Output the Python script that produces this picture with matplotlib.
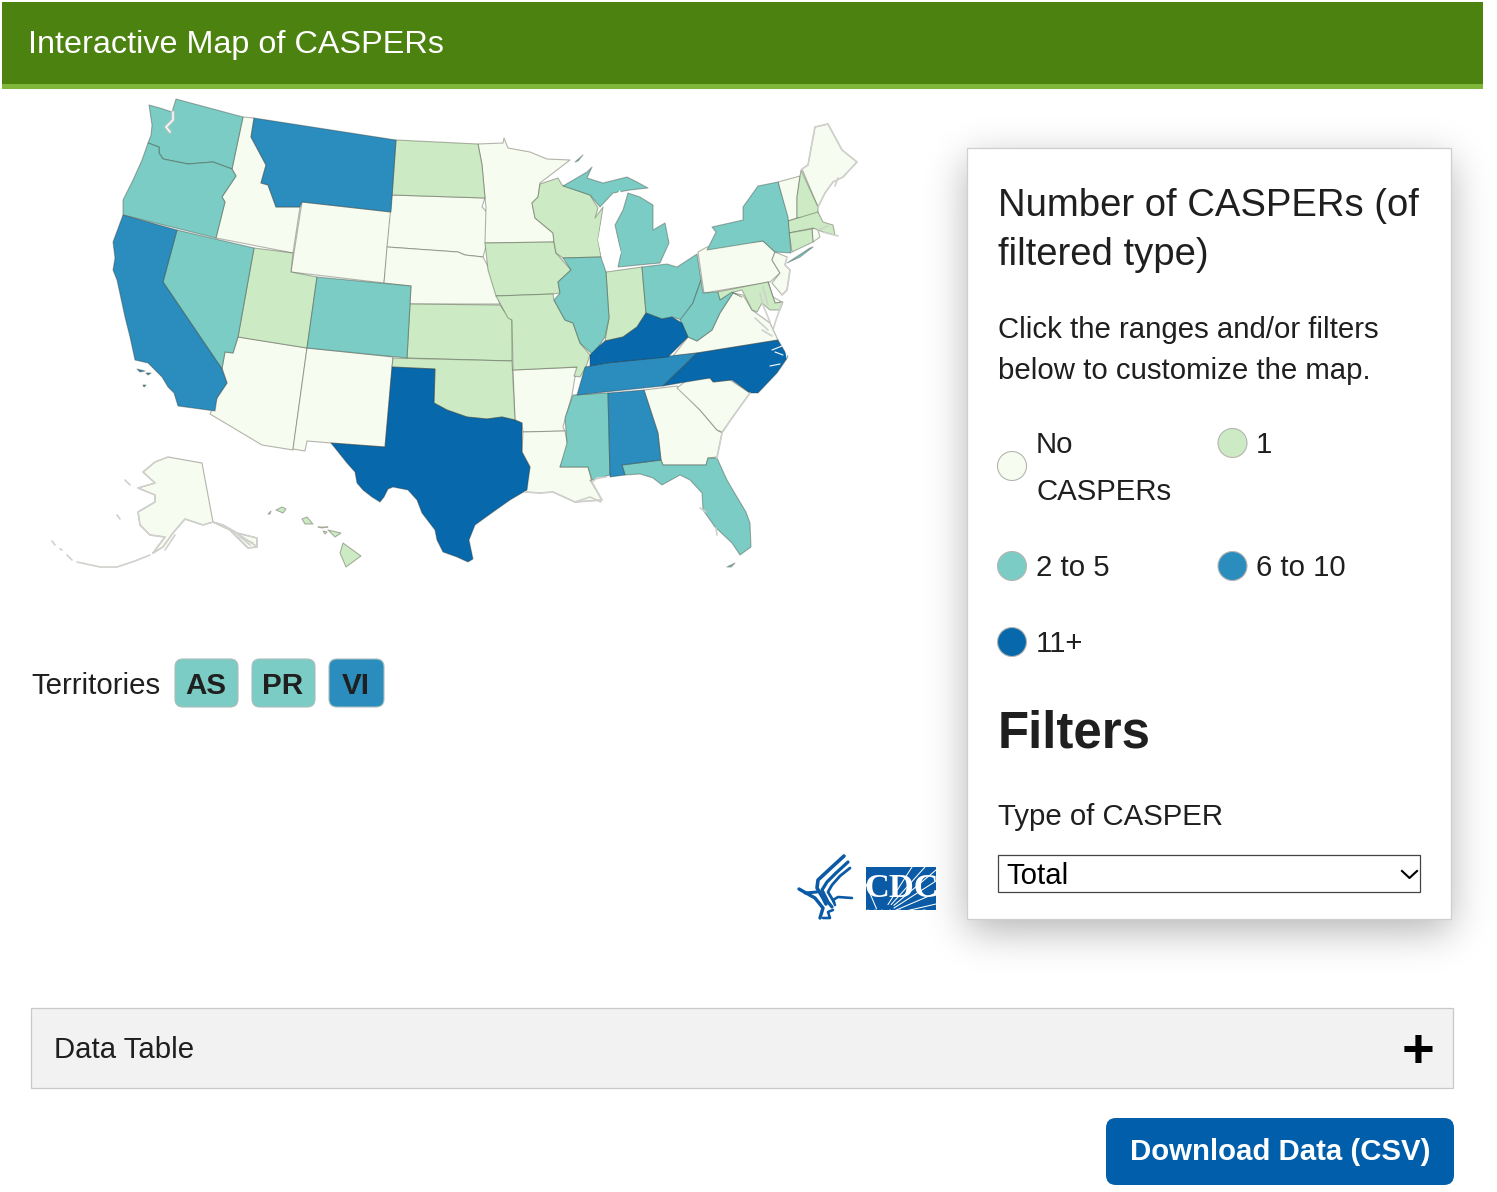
import math
import numpy as np
import matplotlib
matplotlib.use("Agg")
import matplotlib.pyplot as plt
from matplotlib.patches import Rectangle, FancyBboxPatch, Circle, Polygon

plt.rcParams['font.family'] = ['Liberation Sans', 'DejaVu Sans']

# ---------- data ----------
TITLE = "Interactive Map of CASPERs"
RANGE_LABELS = ["No\nCASPERs", "1", "2 to 5", "6 to 10", "11+"]
RANGE_COLORS = ["#f7fcf0", "#ccebc5", "#7bccc4", "#2b8cbe", "#0868ac"]

NO_CASPERS = ["ID", "WY", "SD", "NE", "MN", "AZ", "NM", "AR", "LA", "GA", "SC", "VA", "PA", "NJ", "VT", "ME", "AK", "RI", "DE"]
ONE = ["ND", "UT", "KS", "OK", "IA", "MO", "WI", "IN", "NH", "MA", "CT", "MD", "HI"]
TWO_TO_FIVE = ["WA", "OR", "NV", "CO", "IL", "MI", "OH", "WV", "NY", "MS", "FL"]
SIX_TO_TEN = ["MT", "CA", "TN", "AL"]
ELEVEN_PLUS = ["TX", "KY", "NC"]
GROUPS = [NO_CASPERS, ONE, TWO_TO_FIVE, SIX_TO_TEN, ELEVEN_PLUS]

TERRITORIES = ["AS", "PR", "VI"]
TERRITORY_GROUP = [2, 2, 3]

# Outline geometry of the base map (projected, image pixels); one or more rings per state
SHAPES = {
 "WA": [[(176,99),(243,117),(232,169),(213,162),(188,164),(163,159),(159,153),(159,147),(148,143),(151,135),(152,125),(149,105),(160,108),(172,112)]],
 "OR": [[(148,143),(159,147),(159,153),(163,159),(188,164),(213,162),(232,169),(236,176),(222,197),(225,202),(216,238),(123,215),(123,200),(133,180),(142,160)]],
 "ID": [[(243,117),(254,118),(251,137),(266,165),(261,183),(268,185),(276,207),(297,207),(300,207),(293,253),(216,238),(225,202),(222,197),(236,176),(232,169)]],
 "MT": [[(254,118),(396,140),(391,212),(302,202),(300,207),(276,207),(268,185),(261,183),(266,165),(251,137)]],
 "WY": [[(302,202),(391,212),(384,283),(291,272)]],
 "ND": [[(396,140),(478,144),(482,165),(485,198),(392,195)]],
 "SD": [[(392,195),(485,198),(482,207),(487,212),(487,243),(483,257),(465,255),(458,252),(387,247)]],
 "NE": [[(387,247),(458,252),(465,255),(483,257),(490,270),(500,304),(410,304),(411,286),(384,283)]],
 "CA": [[(123,215),(177,230),(163,282),(222,369),(227,383),(217,398),(215,411),(178,406),(174,393),(168,387),(162,377),(148,363),(135,360),(130,337),(125,317),(117,280),(113,270),(115,258),(113,242)],
        [(137,369),(145,371),(140,372)], [(146,373),(151,373),(148,375)], [(143,385),(146,385),(144,387)]],
 "NV": [[(177,230),(254,248),(238,337),(233,353),(225,352),(222,369),(163,282)]],
 "UT": [[(254,248),(293,253),(291,272),(317,277),(307,348),(238,337)]],
 "CO": [[(317,277),(411,286),(407,358),(307,348)]],
 "AZ": [[(238,337),(307,348),(293,450),(262,445),(210,414),(217,398),(227,383),(222,368),(225,352),(233,353)]],
 "NM": [[(307,348),(393,357),(385,447),(331,443),(307,441),(305,451),(293,449)]],
 "TX": [[(392,367),(435,369),(434,403),(447,410),(467,417),(487,419),(502,417),(515,420),(522,423),(522,452),(530,467),(527,490),(510,500),(493,512),(475,525),(469,540),(473,559),(468,562),(457,557),(443,552),(437,540),(435,530),(422,513),(417,500),(408,490),(393,487),(388,489),(384,497),(380,502),(372,497),(363,490),(357,483),(355,472),(347,463),(335,448),(331,443),(385,447)]],
 "OK": [[(393,358),(512,361),(515,420),(502,417),(487,419),(467,417),(447,410),(434,403),(435,369),(392,367)]],
 "KS": [[(410,304),(500,305),(505,312),(512,320),(512,361),(407,358)]],
 "IA": [[(485,243),(554,242),(556,253),(571,270),(558,282),(560,293),(553,294),(496,296),(488,270)]],
 "MN": [[(478,144),(503,143),(504,138),(508,148),(530,152),(547,159),(570,160),(540,183),(538,197),(532,203),(535,218),(553,233),(554,242),(485,243),(486,207),(485,198),(482,165)]],
 "WI": [[(540,184),(558,178),(562,185),(590,195),(598,208),(595,218),(603,207),(598,240),(601,257),(563,258),(556,253),(554,242),(553,233),(535,218),(532,203),(538,197)]],
 "MI": [[(563,186),(587,172),(592,167),(587,178),(603,183),(627,177),(637,182),(648,188),(630,190),(613,193),(600,207),(590,195)],
        [(618,267),(660,263),(669,243),(665,223),(653,230),(653,205),(640,197),(628,193),(623,210),(615,225),(621,253)],
        [(575,162),(583,155),(578,161)]],
 "IL": [[(563,258),(601,257),(606,272),(609,318),(605,337),(593,355),(580,343),(573,323),(565,320),(554,300),(560,293),(558,282),(571,270)]],
 "IN": [[(606,272),(642,267),(646,313),(637,327),(623,337),(605,341),(609,318)]],
 "OH": [[(642,267),(667,264),(677,267),(697,254),(701,280),(693,303),(682,320),(672,317),(662,319),(646,313)]],
 "KY": [[(646,313),(662,319),(672,317),(682,323),(688,337),(668,357),(607,363),(590,366),(590,355),(598,347),(605,341),(623,337),(637,327)]],
 "TN": [[(606,363),(697,353),(685,365),(663,386),(577,395),(585,367),(590,366)]],
 "NC": [[(778,340),(788,357),(777,373),(758,393),(750,393),(732,380),(713,382),(710,378),(680,383),(663,386),(685,365),(697,353)]],
 "VA": [[(673,356),(688,337),(697,341),(712,330),(720,313),(733,293),(743,295),(752,310),(770,323),(778,340),(697,353)]],
 "WV": [[(701,280),(703,293),(718,292),(720,300),(732,292),(742,297),(733,293),(720,313),(712,330),(697,341),(688,337),(680,320),(693,303)]],
 "PA": [[(698,252),(707,247),(763,241),(775,252),(772,260),(780,273),(770,282),(704,293)]],
 "NY": [[(707,250),(716,232),(712,227),(743,220),(743,207),(758,186),(778,182),(788,217),(791,253),(775,252),(763,241)],
        [(787,263),(810,248),(813,247),(800,257)]],
 "VT": [[(778,182),(800,176),(797,197),(797,218),(788,221)]],
 "NH": [[(801,170),(818,207),(818,217),(797,218),(797,197)]],
 "ME": [[(802,169),(808,165),(815,127),(828,124),(842,150),(857,162),(843,177),(833,182),(825,193),(818,207)]],
 "MA": [[(788,221),(818,212),(823,222),(833,225),(835,235),(823,232),(813,228),(789,233)]],
 "CT": [[(789,233),(812,229),(813,242),(792,252)]],
 "RI": [[(812,229),(817,227),(820,237),(813,242)]],
 "NJ": [[(775,252),(787,257),(785,265),(790,270),(787,290),(782,295),(772,283),(780,273),(772,260)]],
 "DE": [[(768,282),(773,297),(782,302),(775,303)]],
 "MD": [[(717,292),(768,282),(775,303),(783,302),(780,310),(770,310),(762,303),(757,312),(752,310),(742,290),(734,292),(720,300)]],
 "AR": [[(513,370),(582,367),(575,377),(572,395),(563,427),(565,431),(523,432),(522,423),(515,420)]],
 "MO": [[(496,296),(553,294),(554,300),(565,320),(573,323),(580,343),(590,355),(586,367),(580,377),(574,376),(577,367),(513,370),(512,320),(508,318)]],
 "LA": [[(523,432),(565,431),(568,447),(560,467),(588,467),(592,482),(590,480),(602,500),(575,502),(553,492),(540,493),(525,492),(530,467),(522,452)]],
 "MS": [[(573,395),(608,393),(610,475),(592,480),(588,467),(560,467),(567,443),(565,418)]],
 "AL": [[(608,393),(644,390),(658,433),(661,460),(622,465),(625,475),(610,477)]],
 "GA": [[(644,390),(677,386),(700,410),(717,430),(722,433),(717,457),(708,458),(706,465),(663,465),(661,460),(658,433)]],
 "SC": [[(677,388),(687,380),(710,378),(714,382),(730,380),(750,393),(732,418),(722,432),(717,430),(700,410)]],
 "FL": [[(622,465),(661,460),(663,465),(706,465),(708,458),(717,458),(727,480),(737,497),(746,512),(750,523),(751,547),(740,555),(732,543),(715,527),(703,510),(702,493),(690,480),(680,475),(662,485),(653,478),(640,474),(625,475)],
        [(727,567),(735,563),(731,567)]],
 "AK": [[(168,457),(202,463),(213,522),(203,525),(185,519),(173,533),(163,547),(153,553),(165,537),(150,535),(140,525),(138,512),(155,502),(155,495),(138,488),(155,483),(143,472),(155,462)],
        [(213,522),(223,525),(237,533),(257,538),(257,547),(248,548),(230,530)]],
 "HI": [[(343,543),(361,556),(346,567),(340,553)],
        [(328,530),(341,533),(335,537)],
        [(302,519),(307,517),(313,524),(305,524)],
        [(318,527),(328,527),(322,528)],
        [(276,510),(282,507),(286,509),(283,513)],
        [(323,531),(327,532),(325,534)],
        [(268,514),(271,511),(270,514)]],
}
# Light coastal strokes of the map
COAST_GREY = [
    [(150,555),(135,561),(117,567),(100,567),(77,562)],
    [(72,560),(67,555)], [(62,550),(60,549)], [(55,545),(52,541)],
    [(125,480),(130,485)], [(117,515),(120,519)],
    [(168,457),(155,462),(143,472),(155,483),(138,488),(155,495),(155,502),(138,512),(140,525),(150,535),(165,537),(153,553)],
    [(213,522),(223,525),(237,533),(257,538),(257,547),(248,548),(230,530),(213,522),(203,525),(185,519),(173,533),(163,547),(153,553)],
    [(235,532),(250,545)], [(240,537),(253,543)], [(230,530),(246,546)], [(238,534),(256,546)], [(175,535),(165,550)],
    [(592,482),(597,478),(606,477)], [(575,502),(590,497),(601,502)], [(553,492),(575,502),(602,500),(592,482)],
    [(525,492),(540,493),(553,492)],
    [(717,458),(722,433),(732,418),(750,393)],
    [(700,508),(706,512)], [(716,528),(717,535)],
    [(802,169),(808,165),(815,127),(828,124),(842,150),(857,162),(843,177),(833,182),(825,193),(818,207)],
    [(835,186),(838,178)], [(823,232),(838,236)], [(818,230),(828,226)],
    [(787,257),(785,265),(790,270),(787,290),(782,295)],
    [(760,293),(763,305),(770,322)], [(763,287),(768,305)], [(755,318),(768,330)], [(762,330),(772,336)],
    [(782,303),(776,320),(773,330)],
]
COAST_WHITE = [
    [(772,350),(782,346)], [(770,366),(780,364)], [(775,352),(783,355)],
    [(785,345),(787,358)],
]
PUGET = [(173,112),(173,120),(166,127),(170,132)]
LAKE_MICHIGAN = [(604,208),(615,196),(620,190),(623,200),(613,222),(621,253),(612,271),(603,262),(598,240)]

# ---------- canvas ----------
fig = plt.figure(figsize=(14.97, 11.92), dpi=100)
ax = fig.add_axes([0, 0, 1, 1])
ax.axis("off")

TEXT = "#1f1f1f"

def px(size):
    return size * 0.72

def rrect(x0, y0, x1, y1, r, fc, ec="none", lw=0, z=1):
    p = FancyBboxPatch((x0, y0), x1 - x0, y1 - y0, boxstyle=f"round,pad=0,rounding_size={r}",
                       fc=fc, ec=ec, lw=lw, zorder=z)
    ax.add_patch(p)
    return p

def label(x, y, s, size=29.4, **kw):
    kw.setdefault("color", TEXT)
    kw.setdefault("ha", "left")
    ax.text(x, y - 1, s, fontsize=px(size), va="center_baseline", zorder=kw.pop("zorder", 5), **kw)

# soft panel shadow (blurred box)
SIGMA, OFFSET, STRENGTH = 20.0, 12.0, 0.3
xs = np.arange(880, 1497) + 0.5
ys = np.arange(90, 1010) + 0.5
def box(v, a, b):
    return np.array([0.5 * (math.erf((t - a) / (SIGMA * 2 ** 0.5)) - math.erf((t - b) / (SIGMA * 2 ** 0.5))) for t in v])
shadow = np.zeros((len(ys), len(xs), 4))
shadow[..., 3] = STRENGTH * np.outer(box(ys, 148 + OFFSET, 919 + OFFSET), box(xs, 967, 1451))
ax.imshow(shadow, extent=(880, 1497, 1010, 90), zorder=1.5, interpolation="bilinear", aspect="auto")
ax.set_xlim(0, 1497)
ax.set_ylim(1192, 0)

# header
ax.add_patch(Rectangle((2, 2), 1481, 83, fc="#4c820f", ec="none", zorder=1))
ax.add_patch(Rectangle((2, 84), 1481, 5, fc="#7fb73b", ec="none", zorder=2))
label(28, 43, TITLE, size=32.4, color="white")

# map
for group, colour in zip(GROUPS, RANGE_COLORS):
    for code in group:
        for ring in SHAPES[code]:
            ax.add_patch(Polygon(ring, closed=True, fc=colour, ec=(0.2, 0.2, 0.15, 0.36),
                                 lw=0.8, joinstyle="round", zorder=3))
for seg in COAST_GREY:
    sx, sy = zip(*seg)
    ax.plot(sx, sy, color="#d0d0cc", lw=1.2, zorder=4, solid_capstyle="round", solid_joinstyle="round")
ax.add_patch(Polygon(LAKE_MICHIGAN, closed=True, fc="white", ec="none", zorder=4))
for seg in COAST_WHITE:
    sx, sy = zip(*seg)
    ax.plot(sx, sy, color="white", lw=0.8, zorder=4, solid_capstyle="round")
sx, sy = zip(*PUGET)
ax.plot(sx, sy, color="#b8c8c4", lw=2.6, zorder=4, solid_capstyle="round")
ax.plot(sx, sy, color="white", lw=1.0, zorder=4.1, solid_capstyle="round")

# territories
label(31, 683.5, "Territories")
for name, g, (x0, x1) in zip(TERRITORIES, TERRITORY_GROUP, [(175, 238), (252, 315), (329, 384)]):
    rrect(x0, 659, x1, 707, 8, RANGE_COLORS[g], ec="#a9bdbb", lw=0.8, z=3)
    label((x0 + x1) / 2 - 0.5, 684, name, size=29.6, fontweight="bold", ha="center")

# logo: eagle
EAGLE = [
    ([(844,856),(832,867),(818,880),(817,888),(823,898),(826,904)], 3.6),
    ([(848,862),(836,873),(827,882),(822,890),(828,902),(832,907)], 3.2),
    ([(850,868),(840,876),(832,885),(828,892),(834,902)], 2.8),
    ([(799,889),(815,898),(823,908),(820,918)], 3.4),
    ([(805,893),(817,892)], 3.0),
    ([(823,918),(830,918),(828,912),(833,910)], 2.6),
    ([(852,898),(838,897),(833,900),(835,905)], 2.6),
]
for pts, w in EAGLE:
    sx, sy = zip(*pts)
    ax.plot(sx, sy, color="#0a5aa5", lw=w * 0.72, zorder=3, solid_capstyle="round", solid_joinstyle="round")

# logo: CDC block
block = Rectangle((866, 867), 70, 43, fc="#0a5aa5", ec="none", zorder=3)
ax.add_patch(block)
for x_end, y_end in [(866, 884), (868, 910), (875, 910), (882, 910), (890, 910), (900, 910), (912, 910), (925, 910),
                     (936, 904), (936, 893), (936, 881), (936, 870), (925, 867), (912, 867)]:
    ln, = ax.plot([880 + (x_end - 880) * 0.25, x_end], [917 + (y_end - 917) * 0.25, y_end],
                  color="white", lw=0.75, zorder=4)
    ln.set_clip_path(block)
ax.text(901.5, 885, "CDC", color="white", family="Liberation Serif", fontweight="bold", fontsize=px(34.5),
        va="center_baseline", ha="center", zorder=5)

# legend panel
ax.add_patch(Rectangle((967, 148), 484, 771, fc="white", ec="#cfcfcf", lw=0.9, zorder=2))
label(998, 203, "Number of CASPERs (of", size=38.2)
label(998, 252, "filtered type)", size=38.2)
label(998, 328, "Click the ranges and/or filters")
label(998, 369, "below to customize the map.")

swatch_xy = [(1012, 466), (1232.5, 443), (1012, 566), (1232.5, 566), (1012, 642)]
label_xy = [(1036, 443), (1256, 443), (1036, 566), (1256, 566), (1036, 642)]
for lab, col, (cx, cy), (lx, ly) in zip(RANGE_LABELS, RANGE_COLORS, swatch_xy, label_xy):
    ax.add_patch(Circle((cx, cy), 14.5, fc=col, ec="#b5b5b0", lw=0.8, zorder=3))
    for k, part in enumerate(lab.split("\n")):
        label(lx, ly + k * 47, part)

label(998, 729, "Filters", size=51, fontweight="bold")
label(998, 815, "Type of CASPER")
ax.add_patch(Rectangle((997.5, 854.5), 422.5, 37.5, fc="white", ec="#444444", lw=0.9, zorder=3))
label(1006, 873.5, "Total", color="black")
ax.plot([1402, 1409.5, 1417], [871, 878, 871], color="black", lw=1.5, zorder=4)

# data table bar
ax.add_patch(Rectangle((31, 1008), 1422, 79.5, fc="#f2f2f2", ec="#c9c9c9", lw=0.9, zorder=2))
label(54, 1048, "Data Table")
ax.text(1418, 1053, "+", color="black", fontsize=px(56), fontweight="bold", va="center", ha="center", zorder=3)

# download button
rrect(1106, 1118, 1454, 1185, 10, "#005eaa", z=2)
label(1280, 1150, "Download Data (CSV)", color="white", fontweight="bold", ha="center")

fig.savefig("out.png", dpi=100, facecolor="white")
